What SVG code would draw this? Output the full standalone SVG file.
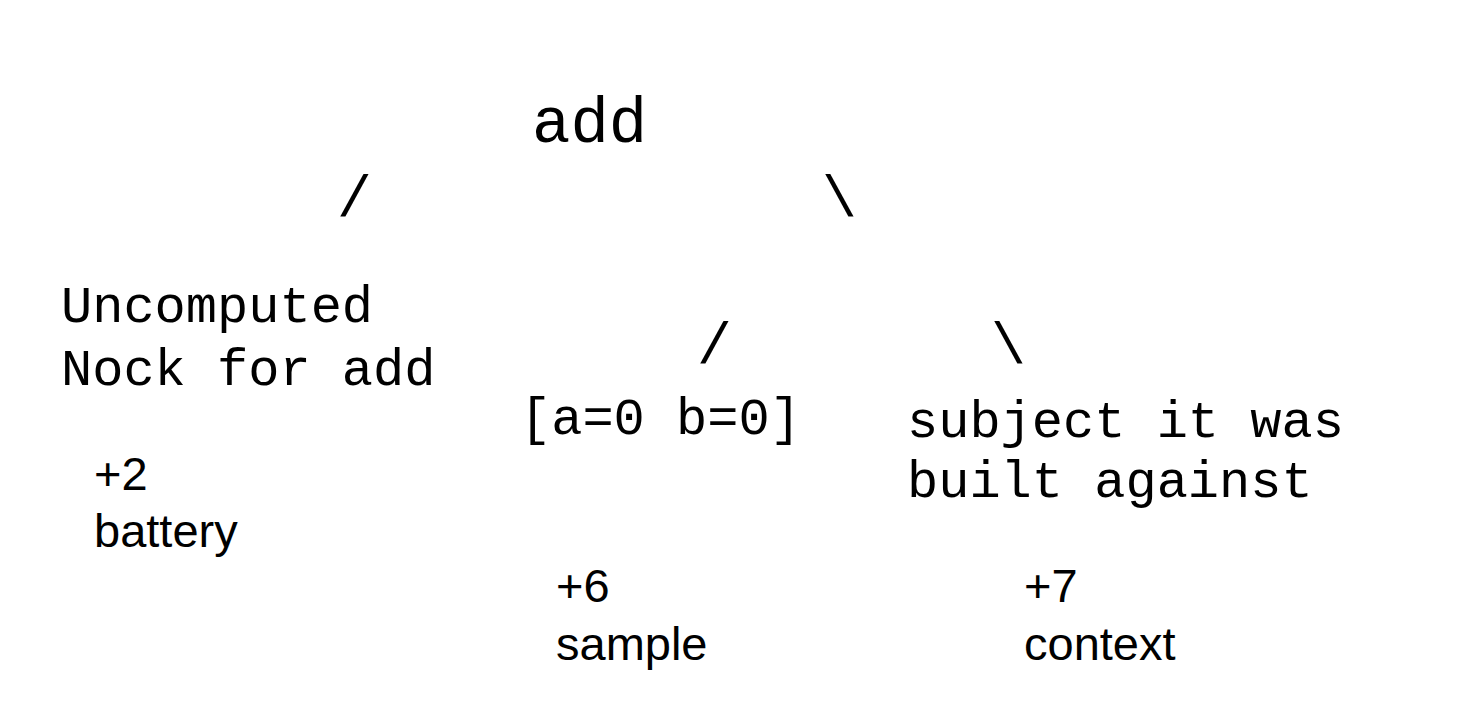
<svg xmlns="http://www.w3.org/2000/svg" width="1458" height="728" viewBox="0 0 1458 728">
<style>
.m{font-family:"Liberation Mono","Courier New",monospace;font-size:52px;fill:#000}
.big{font-size:64px}
.sl{font-size:58px}
.s{font-family:"Liberation Sans",Arial,sans-serif;font-size:47px;fill:#000}
</style>
<rect width="1458" height="728" fill="#fff"/>
<g id="connectors">
<text class="m sl" x="337" y="216">/</text>
<text class="m sl" x="822" y="216">\</text>
<text class="m sl" x="697" y="363">/</text>
<text class="m sl" x="991" y="363">\</text>
</g>
<g id="node-add"><text class="m big" x="532" y="142">add</text></g>
<g id="node-uncomputed">
<text class="m" x="61" y="322">Uncomputed</text>
<text class="m" x="61" y="385">Nock for add</text>
</g>
<g id="node-sample"><text class="m" x="520" y="434">[a=0 b=0]</text></g>
<g id="node-subject">
<text class="m" x="907" y="437">subject it was</text>
<text class="m" x="907" y="497">built against</text>
</g>
<g id="label-battery">
<text class="s" x="94" y="490">+2</text>
<text class="s" x="94" y="547">battery</text>
</g>
<g id="label-sample">
<text class="s" x="556" y="602">+6</text>
<text class="s" x="556" y="660">sample</text>
</g>
<g id="label-context">
<text class="s" x="1024" y="602">+7</text>
<text class="s" x="1024" y="660">context</text>
</g>
</svg>
